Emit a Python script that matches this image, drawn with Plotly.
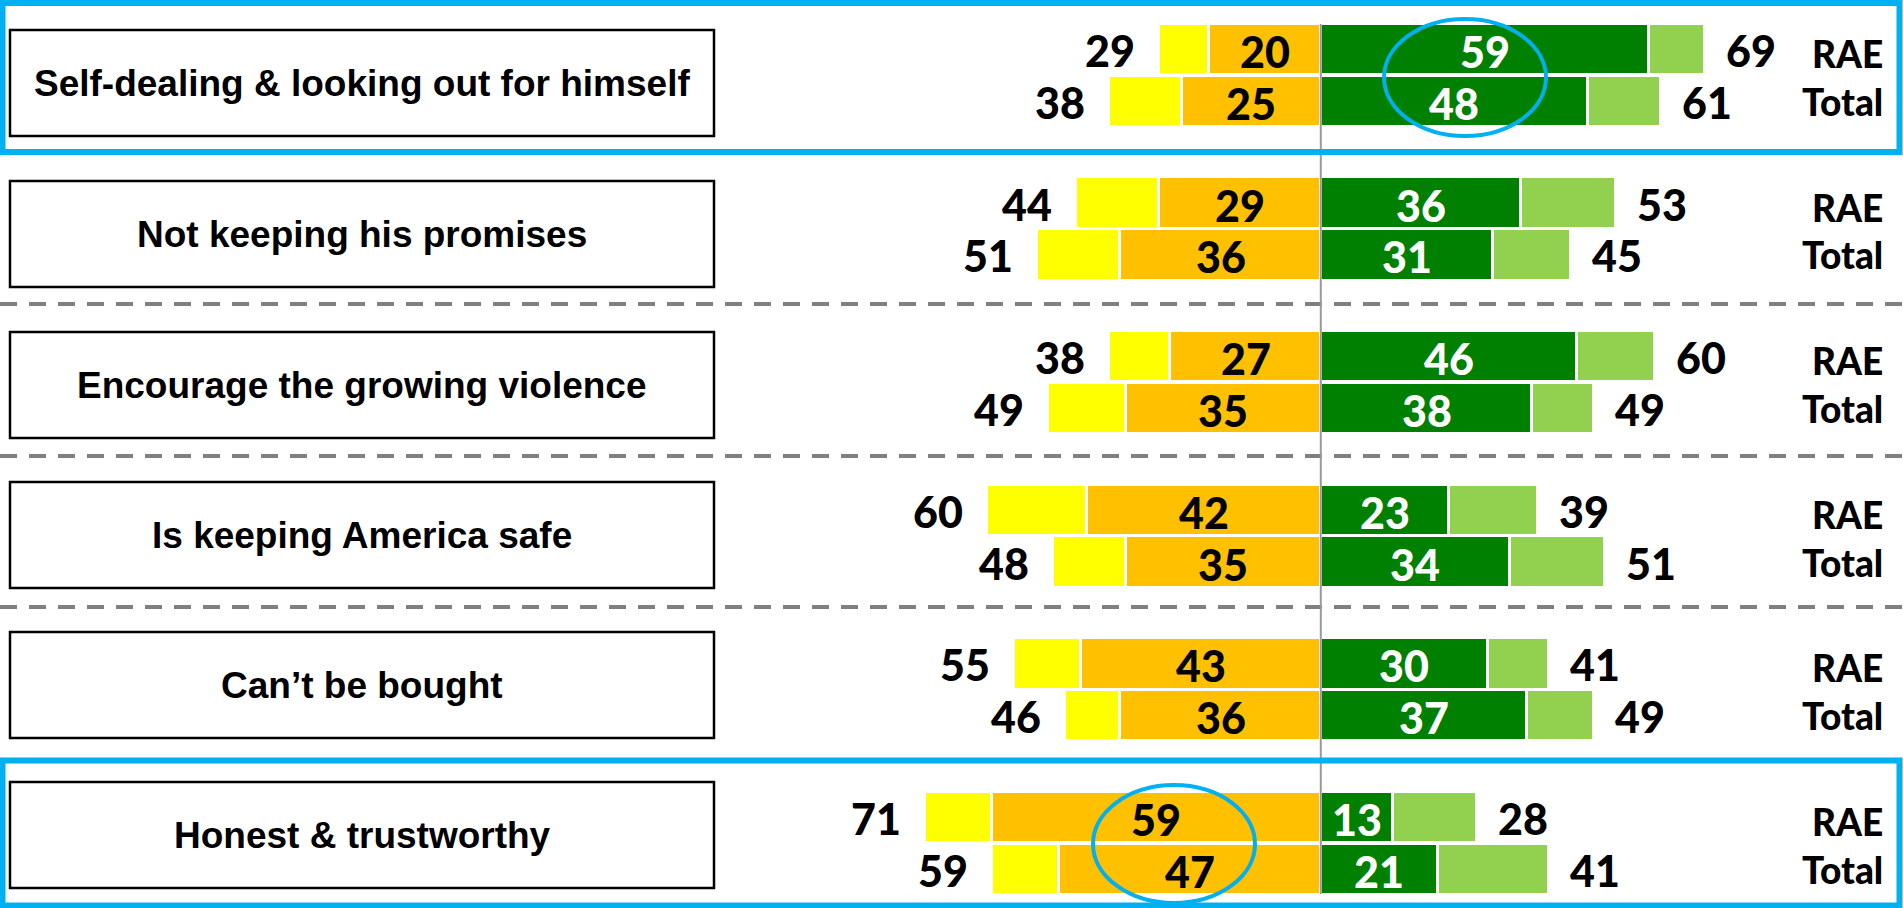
import plotly.graph_objects as go

# ---------------- data ----------------
categories = [
    "Self-dealing & looking out for himself",
    "Not keeping his promises",
    "Encourage the growing violence",
    "Is keeping America safe",
    "Can\u2019t be bought",
    "Honest & trustworthy",
]
row_labels = ["RAE", "Total"]

rae_neg_total = [29, 44, 38, 60, 55, 71]
rae_neg_strong = [20, 29, 27, 42, 43, 59]
rae_pos_strong = [59, 36, 46, 23, 30, 13]
rae_pos_total = [69, 53, 60, 39, 41, 28]

tot_neg_total = [38, 51, 49, 48, 46, 59]
tot_neg_strong = [25, 36, 35, 35, 36, 47]
tot_pos_strong = [48, 31, 38, 34, 37, 21]
tot_pos_total = [61, 45, 49, 51, 49, 41]

# ---------------- layout helpers ----------------
W, H = 1903, 908
ZERO_PX = 1320.8
PX_PER_UNIT = 5.57
x_range = [-ZERO_PX / PX_PER_UNIT, (W - ZERO_PX) / PX_PER_UNIT]

GROUP_STEP = 153.6
FIRST_ROW = 49.5
SUB_STEP = 51.8
BAR_W = 51.5

YELLOW = "#FFFF00"
ORANGE = "#FFC000"
DKGREEN = "#008000"
LTGREEN = "#92D050"
BLUE = "#00B0F0"

NUM_FONT = "Lato, Calibri, Carlito, sans-serif"
CAT_FONT = "Arial, 'Liberation Sans', sans-serif"

ys, neg_t, neg_s, pos_s, pos_t = [], [], [], [], []
for g in range(len(categories)):
    for s, (nt, ns, ps, pt) in enumerate([
        (rae_neg_total[g], rae_neg_strong[g], rae_pos_strong[g], rae_pos_total[g]),
        (tot_neg_total[g], tot_neg_strong[g], tot_pos_strong[g], tot_pos_total[g]),
    ]):
        ys.append(FIRST_ROW + g * GROUP_STEP + s * SUB_STEP)
        neg_t.append(nt)
        neg_s.append(ns)
        pos_s.append(ps)
        pos_t.append(pt)

fig = go.Figure()
line = dict(color="white", width=3)
fig.add_trace(go.Bar(y=ys, x=[-v for v in neg_s], orientation="h", width=BAR_W,
                     marker=dict(color=ORANGE, line=line), hoverinfo="skip"))
fig.add_trace(go.Bar(y=ys, x=[-(t - s) for t, s in zip(neg_t, neg_s)], orientation="h",
                     width=BAR_W, marker=dict(color=YELLOW, line=line), hoverinfo="skip"))
fig.add_trace(go.Bar(y=ys, x=pos_s, orientation="h", width=BAR_W,
                     marker=dict(color=DKGREEN, line=line), hoverinfo="skip"))
fig.add_trace(go.Bar(y=ys, x=[t - s for t, s in zip(pos_t, pos_s)], orientation="h",
                     width=BAR_W, marker=dict(color=LTGREEN, line=line), hoverinfo="skip"))

annotations = []
NUM_SIZE = 43
num_font = dict(family=NUM_FONT, size=NUM_SIZE, color="black", weight=900)
in_font_w = dict(family=NUM_FONT, size=NUM_SIZE, color="white", weight=900)
for i, (y, nt, ns, ps, pt) in enumerate(zip(ys, neg_t, neg_s, pos_s, pos_t)):
    # inside labels
    annotations.append(dict(x=-ns / 2, y=y, xref="x", yref="y", text=str(ns), showarrow=False,
                            xanchor="center", yanchor="middle", yshift=-2, font=num_font))
    annotations.append(dict(x=ps / 2, y=y, xref="x", yref="y", text=str(ps), showarrow=False,
                            xanchor="center", yanchor="middle", yshift=-2, font=in_font_w))
    # outside totals
    annotations.append(dict(x=-nt, y=y, xref="x", yref="y", text=str(nt), showarrow=False,
                            xanchor="right", xshift=-22, yshift=-1, font=num_font))
    annotations.append(dict(x=pt, y=y, xref="x", yref="y", text=str(pt), showarrow=False,
                            xanchor="left", xshift=19, yshift=-1, font=num_font))
    annotations.append(dict(x=1885 / W, y=y + (4 if i % 2 == 0 else 0), xref="paper", yref="y",
                            text=row_labels[i % 2], showarrow=False, xanchor="right",
                            font=dict(family=NUM_FONT, size=37, color="black", weight=900)))

shapes = []
box_tops = [30, 181, 332, 482, 632, 782]
BOX_H = 106
for g, cat in enumerate(categories):
    y0 = box_tops[g]
    shapes.append(dict(type="rect", xref="paper", yref="y", x0=10 / W, x1=714 / W,
                       y0=y0, y1=y0 + BOX_H, line=dict(color="black", width=2.5),
                       fillcolor="white", layer="below"))
    annotations.append(dict(x=362 / W, y=y0 + BOX_H / 2, xref="paper", yref="y",
                            text="<b>" + cat + "</b>", showarrow=False,
                            xanchor="center", yanchor="middle",
                            font=dict(family=CAT_FONT, size=37, color="black")))

# dashed separators
for yd in [304, 456, 607]:
    shapes.append(dict(type="line", xref="paper", yref="y", x0=0, x1=1, y0=yd, y1=yd,
                       line=dict(color="#808080", width=4, dash="17px,12px")))

# center line
shapes.append(dict(type="line", xref="x", yref="y", x0=0, x1=0, y0=24, y1=894,
                   line=dict(color="#9A9A9A", width=2), layer="above"))

# highlight boxes
shapes.append(dict(type="rect", xref="paper", yref="y", x0=2.5 / W, x1=1899.5 / W,
                   y0=3, y1=152, line=dict(color=BLUE, width=6)))
shapes.append(dict(type="rect", xref="paper", yref="y", x0=2.5 / W, x1=1899.5 / W,
                   y0=760.5, y1=905.5, line=dict(color=BLUE, width=6)))
# highlight ellipses
shapes.append(dict(type="circle", xref="paper", yref="y", x0=1384 / W, x1=1546 / W,
                   y0=19, y1=136, line=dict(color=BLUE, width=4)))
shapes.append(dict(type="circle", xref="paper", yref="y", x0=1093 / W, x1=1255 / W,
                   y0=785, y1=903, line=dict(color=BLUE, width=4)))

fig.update_layout(
    width=W, height=H,
    margin=dict(l=0, r=0, t=0, b=0),
    barmode="relative",
    bargap=0,
    showlegend=False,
    plot_bgcolor="white",
    paper_bgcolor="white",
    xaxis=dict(range=x_range, visible=False, fixedrange=True),
    yaxis=dict(range=[H, 0], visible=False, fixedrange=True),
    annotations=annotations,
    shapes=shapes,
)

fig.write_html("out.html", config={"displayModeBar": False},
               post_script="document.body.style.margin='0';document.body.style.overflow='hidden';")
